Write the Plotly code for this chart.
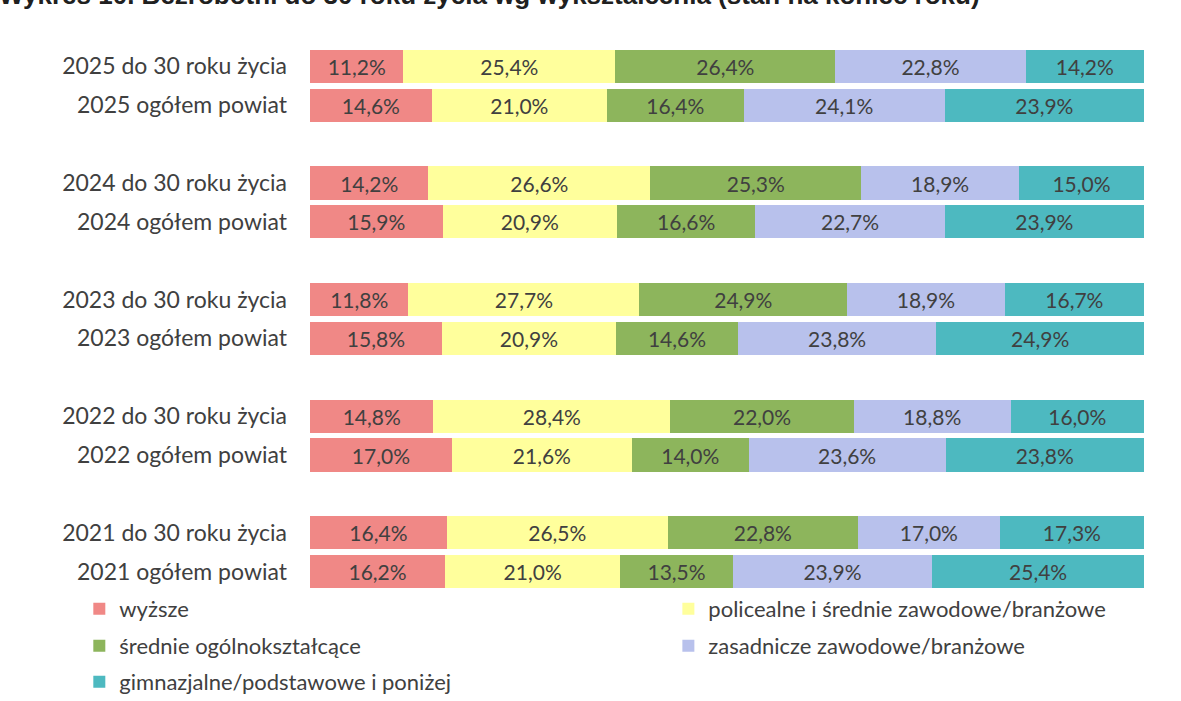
import plotly.graph_objects as go

categories = [
    "2025 do 30 roku życia", "2025 ogółem powiat", " ",
    "2024 do 30 roku życia", "2024 ogółem powiat", "  ",
    "2023 do 30 roku życia", "2023 ogółem powiat", "   ",
    "2022 do 30 roku życia", "2022 ogółem powiat", "    ",
    "2021 do 30 roku życia", "2021 ogółem powiat",
]
rows = [
    "2025 do 30 roku życia", "2025 ogółem powiat",
    "2024 do 30 roku życia", "2024 ogółem powiat",
    "2023 do 30 roku życia", "2023 ogółem powiat",
    "2022 do 30 roku życia", "2022 ogółem powiat",
    "2021 do 30 roku życia", "2021 ogółem powiat",
]
series_names = [
    "wyższe",
    "policealne i średnie zawodowe/branżowe",
    "średnie ogólnokształcące",
    "zasadnicze zawodowe/branżowe",
    "gimnazjalne/podstawowe i poniżej",
]
wyzsze = [11.2, 14.6, 14.2, 15.9, 11.8, 15.8, 14.8, 17.0, 16.4, 16.2]
policealne = [25.4, 21.0, 26.6, 20.9, 27.7, 20.9, 28.4, 21.6, 26.5, 21.0]
srednie = [26.4, 16.4, 25.3, 16.6, 24.9, 14.6, 22.0, 14.0, 22.8, 13.5]
zasadnicze = [22.8, 24.1, 18.9, 22.7, 18.9, 23.8, 18.8, 23.6, 17.0, 23.9]
gimnazjalne = [14.2, 23.9, 15.0, 23.9, 16.7, 24.9, 16.0, 23.8, 17.3, 25.4]

series_values = [wyzsze, policealne, srednie, zasadnicze, gimnazjalne]
colors = ["#F08886", "#FFFF9C", "#8DB55C", "#B8C1EC", "#4DB9C0"]
legend_ids = ["legend", "legend2", "legend3", "legend4", "legend5"]

title_text = "Wykres 10. Bezrobotni do 30 roku życia wg wykształcenia (stan na koniec roku)"

FONT = "Lato, Carlito, 'Open Sans', sans-serif"
TXT = "#404040"

fig = go.Figure()
for name, vals, col, lg in zip(series_names, series_values, colors, legend_ids):
    fig.add_trace(go.Bar(
        name=name,
        y=rows,
        x=vals,
        orientation="h",
        marker=dict(color=col, line=dict(width=0)),
        width=0.85,
        text=[f"{v:.1f}".replace(".", ",") + "%" for v in vals],
        textposition="inside",
        insidetextanchor="middle",
        textangle=0,
        constraintext="none",
        textfont=dict(family=FONT, size=21, color=TXT),
        legend=lg,
        hoverinfo="skip",
    ))

leg_common = dict(
    orientation="v",
    xref="paper", yref="paper",
    xanchor="left", yanchor="middle",
    font=dict(family=FONT, size=22, color=TXT),
    bgcolor="rgba(0,0,0,0)",
    itemclick=False, itemdoubleclick=False,
)
col1 = -0.2766
col2 = 0.4297
row_y = [-0.033, -0.101, -0.167]

fig.update_layout(
    width=1181, height=701,
    paper_bgcolor="white", plot_bgcolor="white",
    barmode="stack",
    margin=dict(l=310, r=37, t=47, b=110, autoexpand=False),
    showlegend=True,
    xaxis=dict(range=[0, 100], visible=False, fixedrange=True),
    yaxis=dict(
        categoryorder="array", categoryarray=categories,
        tickmode="array", tickvals=categories,
        autorange="reversed",
        showgrid=False, zeroline=False, showline=False,
        ticks="", ticklabelstandoff=22,
        tickfont=dict(family=FONT, size=23, color=TXT),
        fixedrange=True,
    ),
    legend=dict(leg_common, x=col1, y=row_y[0]),
    legend2=dict(leg_common, x=col2, y=row_y[0]),
    legend3=dict(leg_common, x=col1, y=row_y[1]),
    legend4=dict(leg_common, x=col2, y=row_y[1]),
    legend5=dict(leg_common, x=col1, y=row_y[2]),
    annotations=[dict(
        text="<b>" + title_text + "</b>",
        xref="paper", yref="paper",
        x=-0.375, y=1, xanchor="left", yanchor="middle",
        yshift=52, showarrow=False,
        font=dict(family="Liberation Sans, Arial, sans-serif", size=26, color="#202020"),
    )],
)

fig.write_html("out.html", config={"displayModeBar": False},
               post_script="document.body.style.margin='0';")
